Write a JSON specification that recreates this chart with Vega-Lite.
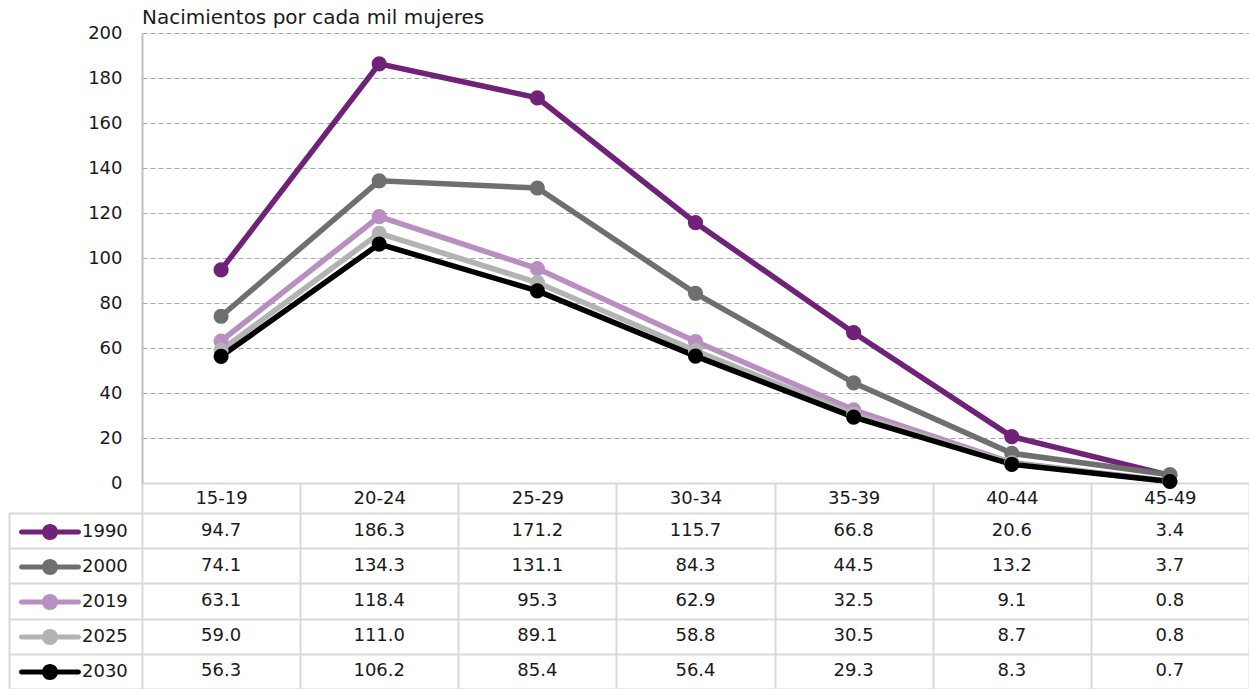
{
  "$schema": "https://vega.github.io/schema/vega-lite/v6.json",
  "background": "white",
  "padding": {"left": 8, "top": 8, "right": 0, "bottom": 0},
  "config": {
    "font": "DejaVu Sans",
    "view": {"stroke": null},
    "axis": {"labelFont": "DejaVu Sans", "labelFontSize": 18, "labelColor": "#1a1a1a"},
    "title": {"font": "DejaVu Sans"}
  },
  "data": {
    "values": [
      {"age": "15-19", "year": "1990", "value": 94.7},
      {"age": "20-24", "year": "1990", "value": 186.3},
      {"age": "25-29", "year": "1990", "value": 171.2},
      {"age": "30-34", "year": "1990", "value": 115.7},
      {"age": "35-39", "year": "1990", "value": 66.8},
      {"age": "40-44", "year": "1990", "value": 20.6},
      {"age": "45-49", "year": "1990", "value": 3.4},
      {"age": "15-19", "year": "2000", "value": 74.1},
      {"age": "20-24", "year": "2000", "value": 134.3},
      {"age": "25-29", "year": "2000", "value": 131.1},
      {"age": "30-34", "year": "2000", "value": 84.3},
      {"age": "35-39", "year": "2000", "value": 44.5},
      {"age": "40-44", "year": "2000", "value": 13.2},
      {"age": "45-49", "year": "2000", "value": 3.7},
      {"age": "15-19", "year": "2019", "value": 63.1},
      {"age": "20-24", "year": "2019", "value": 118.4},
      {"age": "25-29", "year": "2019", "value": 95.3},
      {"age": "30-34", "year": "2019", "value": 62.9},
      {"age": "35-39", "year": "2019", "value": 32.5},
      {"age": "40-44", "year": "2019", "value": 9.1},
      {"age": "45-49", "year": "2019", "value": 0.8},
      {"age": "15-19", "year": "2025", "value": 59.0},
      {"age": "20-24", "year": "2025", "value": 111.0},
      {"age": "25-29", "year": "2025", "value": 89.1},
      {"age": "30-34", "year": "2025", "value": 58.8},
      {"age": "35-39", "year": "2025", "value": 30.5},
      {"age": "40-44", "year": "2025", "value": 8.7},
      {"age": "45-49", "year": "2025", "value": 0.8},
      {"age": "15-19", "year": "2030", "value": 56.3},
      {"age": "20-24", "year": "2030", "value": 106.2},
      {"age": "25-29", "year": "2030", "value": 85.4},
      {"age": "30-34", "year": "2030", "value": 56.4},
      {"age": "35-39", "year": "2030", "value": 29.3},
      {"age": "40-44", "year": "2030", "value": 8.3},
      {"age": "45-49", "year": "2030", "value": 0.7}
    ]
  },
  "bounds": "flush",
  "spacing": 30,
  "resolve": {"legend": {"color": "independent"}},
  "vconcat": [
    {
      "width": 1107,
      "height": 450,
      "title": {
        "text": "Nacimientos por cada mil mujeres",
        "anchor": "start",
        "frame": "group",
        "fontSize": 20,
        "fontWeight": "normal",
        "color": "#1a1a1a",
        "offset": -4
      },
      "encoding": {
        "x": {
          "field": "age",
          "type": "nominal",
          "sort": null,
          "scale": {"type": "band", "paddingInner": 0, "paddingOuter": 0},
          "axis": {
            "title": null,
            "orient": "bottom",
            "labelAngle": 0,
            "domain": true,
            "domainColor": "#d9d9d9",
            "domainWidth": 2,
            "ticks": true,
            "tickBand": "extent",
            "tickSize": 30,
            "tickColor": "#d9d9d9",
            "tickWidth": 2,
            "labelPadding": -15,
            "labelBaseline": "middle",
            "grid": false
          }
        },
        "y": {
          "field": "value",
          "type": "quantitative",
          "scale": {"domain": [0, 200], "nice": false},
          "axis": {
            "title": null,
            "values": [0, 20, 40, 60, 80, 100, 120, 140, 160, 180, 200],
            "ticks": false,
            "labelPadding": 20,
            "domain": true,
            "domainColor": "#bfbfbf",
            "domainWidth": 2,
            "grid": true,
            "gridColor": "#a6a6a6",
            "gridDash": [5, 3],
            "gridWidth": 1
          }
        },
        "color": {
          "field": "year",
          "type": "nominal",
          "scale": {
            "domain": ["1990", "2000", "2019", "2025", "2030"],
            "range": ["#6f2277", "#6f6f6f", "#b88fc0", "#b3b3b3", "#000000"]
          },
          "legend": null
        }
      },
      "layer": [
        {"mark": {"type": "line", "strokeWidth": 5.5}},
        {"mark": {"type": "point", "filled": true, "opacity": 1, "size": 230}}
      ]
    },
    {
      "width": 1107,
      "height": 176,
      "encoding": {
        "x": {
          "field": "age",
          "type": "nominal",
          "sort": null,
          "scale": {"type": "band", "paddingInner": 0, "paddingOuter": 0},
          "axis": {
            "title": null,
            "labels": false,
            "ticks": false,
            "domain": false,
            "grid": true,
            "tickBand": "extent",
            "gridColor": "#d9d9d9",
            "gridWidth": 2
          }
        },
        "y": {
          "field": "year",
          "type": "nominal",
          "sort": null,
          "scale": {"type": "band", "paddingInner": 0, "paddingOuter": 0},
          "axis": {
            "title": null,
            "orient": "left",
            "offset": 133,
            "labels": false,
            "domain": true,
            "domainColor": "#d9d9d9",
            "domainWidth": 2,
            "ticks": true,
            "tickSize": -133,
            "tickBand": "extent",
            "tickColor": "#d9d9d9",
            "tickWidth": 2,
            "grid": true,
            "gridColor": "#d9d9d9",
            "gridWidth": 2
          }
        }
      },
      "layer": [
        {
          "mark": {"type": "text", "fontSize": 18, "color": "#1a1a1a", "font": "DejaVu Sans"},
          "encoding": {"text": {"field": "value", "type": "quantitative", "format": ".1f"}}
        },
        {
          "mark": {"type": "point", "filled": true, "opacity": 0},
          "encoding": {
            "color": {
              "field": "year",
              "type": "nominal",
              "scale": {
                "domain": ["1990", "2000", "2019", "2025", "2030"],
                "range": ["#6f2277", "#6f6f6f", "#b88fc0", "#b3b3b3", "#000000"]
              },
              "legend": {
                "orient": "left",
                "offset": -130,
                "title": null,
                "padding": 10,
                "symbolType": "M -3.8 -0.33 L 3.8 -0.33 A 0.33 0.33 0 0 1 3.8 0.33 L -3.8 0.33 A 0.33 0.33 0 0 1 -3.8 -0.33 Z M 1.07 0 A 1.07 1.07 0 1 1 -1.07 0 A 1.07 1.07 0 1 1 1.07 0 Z",
                "symbolSize": 225,
                "symbolStrokeWidth": 0,
                "symbolOpacity": 1,
                "labelFontSize": 18,
                "labelFont": "DejaVu Sans",
                "labelColor": "#1a1a1a",
                "labelOffset": 23,
                "rowPadding": 17,
                "labelLimit": 0
              }
            }
          }
        }
      ]
    }
  ]
}
